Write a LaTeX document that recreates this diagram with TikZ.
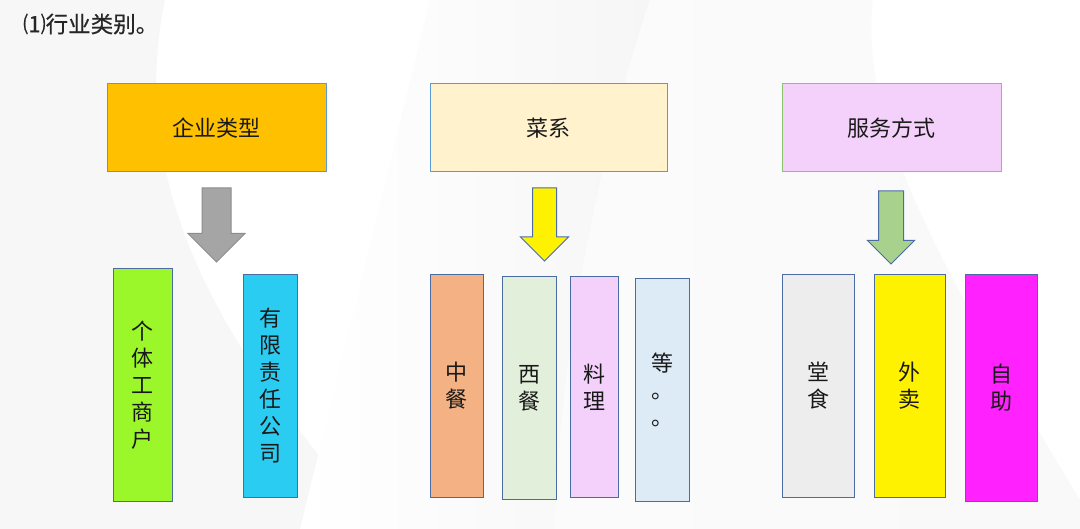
\documentclass[tikz,border=0pt]{standalone}
\usepackage{fontspec}
\setmainfont{Noto Sans CJK SC}
\newfontfamily\titlefont[FakeBold=0.4]{Noto Sans CJK SC}
\usepackage{xcolor}
\usepackage{tikz}
\usetikzlibrary{positioning, shapes.arrows}

\definecolor{lineblue}{HTML}{5B9BD5}
\definecolor{linegreen}{HTML}{8CC46A}
\definecolor{boxblue}{HTML}{4A6CA3}
\definecolor{orangeh}{HTML}{FFC000}
\definecolor{creamh}{HTML}{FFF2CC}
\definecolor{lilac}{HTML}{F4D1FB}
\definecolor{limeg}{HTML}{9CF72A}
\definecolor{cyanb}{HTML}{2ACDF1}
\definecolor{salmon}{HTML}{F4B183}
\definecolor{mintg}{HTML}{E2EFDA}
\definecolor{paleblue}{HTML}{DDEBF7}
\definecolor{lightgr}{HTML}{EDEDED}
\definecolor{magentab}{HTML}{FF22FF}
\definecolor{arrowgrey}{HTML}{A5A5A5}
\definecolor{arrowgreyline}{HTML}{8C8C8C}
\definecolor{arrowgreen}{HTML}{A9D18E}

\begin{document}
\begin{tikzpicture}[x=1pt, y=-1pt,
        every node/.style={font=\fontsize{22}{27}\selectfont, text=black!90, align=center, inner sep=0pt},
        topbox/.style={draw, line width=1pt, minimum width=219pt, minimum height=88pt},
        itembox/.style={draw=boxblue, line width=1pt, minimum height=222pt},
        bigarrow/.style={single arrow, shape border rotate=270, line width=1pt, anchor=tail}]
        \useasboundingbox (0,0) rectangle (1080,529);

        % faint page background
        \fill[gray!6] (0,0) -- (165,0) .. controls (130,170) and (200,330) .. (383,529) -- (0,529) -- cycle;
        \shade[left color=white, right color=gray!7] (430,0) -- (650,0) .. controls (600,150) and (560,350) .. (555,529) -- (300,529) -- cycle;
        \shade[left color=white!97!gray, right color=gray!5] (650,0) -- (873,0) .. controls (860,120) and (930,250) .. (1080,500) -- (1080,529) -- (555,529) .. controls (560,350) and (600,150) .. (650,0) -- cycle;

        \node[font=\titlefont\fontsize{22.5}{24}\selectfont, text=black!85, anchor=west] (title) at (23,24) {⑴行业类别。};

        % category headers
        \node[topbox, fill=orangeh, draw=lineblue] (qiye) at (216.5,128) {企业类型};
        \node[topbox, minimum width=237pt, fill=creamh, draw=lineblue] (caixi) at (548.5,128) {菜系};
        \node[topbox, fill=lilac, draw=linegreen] (fuwu) at (891.5,128) {服务方式};

        % block arrows
        \node[bigarrow, fill=arrowgrey, draw=arrowgreyline, minimum height=74pt, inner sep=14pt, single arrow head extend=14pt] (arrqiye) at ([yshift=-15pt]qiye.south) {};
        \node[bigarrow, fill=yellow, draw=boxblue, minimum height=73pt, inner sep=11.5pt, single arrow head extend=12pt] (arrcaixi) at ([xshift=-4pt, yshift=-15pt]caixi.south) {};
        \node[bigarrow, fill=arrowgreen, draw=boxblue, minimum height=73pt, inner sep=12pt, single arrow head extend=11pt] (arrfuwu) at ([xshift=-0.5pt, yshift=-18pt]fuwu.south) {};

        % enterprise types
        \node[itembox, fill=limeg, minimum width=59pt, minimum height=232pt] (geti) at (142.5,385) {个\\体\\工\\商\\户};
        \node[itembox, fill=cyanb, minimum width=54pt] (youxian) at (270,386) {有\\限\\责\\任\\公\\司};

        % cuisines
        \node[itembox, fill=salmon, minimum width=53pt] (zhongcan) at (456.5,386) {中\\餐};
        \node[itembox, fill=mintg, minimum width=54pt] (xican) at (529,388) {西\\餐};
        \node[itembox, fill=lilac, minimum width=48pt, minimum height=220pt] (liaoli) at (594,387) {料\\理};
        \node[itembox, fill=paleblue, minimum width=54pt] (deng) at (662,390) {等\\。\\。};

        % service modes
        \node[itembox, fill=lightgr, minimum width=72pt] (tangshi) at (818,386) {堂\\食};
        \node[itembox, fill=yellow, minimum width=71pt] (waimai) at (909.5,386) {外\\卖};
        \node[itembox, fill=magentab, minimum width=72pt, minimum height=226pt] (zizhu) at (1001,388) {自\\助};
    \end{tikzpicture}
\end{document}
